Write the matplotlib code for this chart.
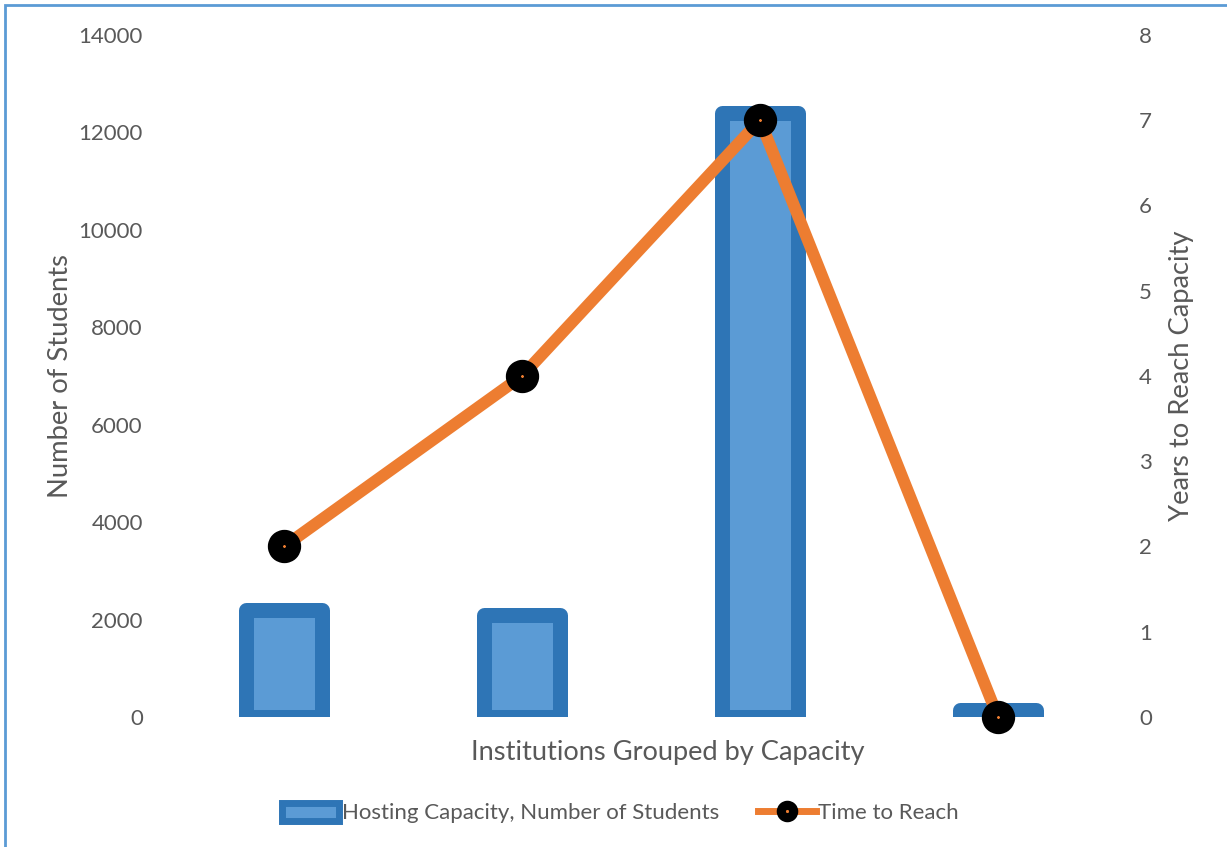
#!/usr/bin/env python
import matplotlib
matplotlib.use("Agg")
import matplotlib.pyplot as plt
from matplotlib.patches import Rectangle
from matplotlib.lines import Line2D
from matplotlib.patches import Patch

# data
categories = ["Group 1", "Group 2", "Group 3", "Group 4"]
students = [2200, 2100, 12400, 150]
years = [2, 4, 7, 0]

left_ticks = [0, 2000, 4000, 6000, 8000, 10000, 12000, 14000]
right_ticks = [0, 1, 2, 3, 4, 5, 6, 7, 8]

TEXT = "#595959"
BAR_FILL = "#5B9BD5"
BAR_EDGE = "#2E75B6"
ORANGE = "#ED7D31"

plt.rcParams["font.family"] = ["Lato", "DejaVu Sans"]


def main():
    fig = plt.figure(figsize=(12.27, 8.47), dpi=100)
    ax = fig.add_axes([0.1345, 0.1535, 0.7758, 0.8052])
    ax2 = ax.twinx()

    x = list(range(len(categories)))
    ax.bar(x, students, width=0.32, color=BAR_FILL, edgecolor=BAR_EDGE,
           linewidth=10.8, joinstyle="round", zorder=2)
    ax.set_xlim(-0.5, 3.5)
    ax.set_ylim(0, 14000)
    ax.set_yticks(left_ticks)
    ax.set_xticks([])

    ax2.plot(x, years, color=ORANGE, lw=8.6, marker="o", markersize=13.2,
             markerfacecolor=ORANGE, markeredgecolor="black",
             markeredgewidth=10.8, solid_capstyle="butt", clip_on=False,
             zorder=3)
    ax2.set_ylim(0, 8)
    ax2.set_yticks(right_ticks)

    for a in (ax, ax2):
        for s in a.spines.values():
            s.set_visible(False)
        a.tick_params(length=0, labelsize=16, labelcolor=TEXT, pad=16)

    fig.text(60 / 1227, 1 - 376 / 847, "Number of Students", rotation=90,
             ha="center", va="center", fontsize=19.7, color=TEXT)
    fig.text(1181 / 1227, 1 - 376 / 847, "Years to Reach Capacity",
             rotation=90, ha="center", va="center", fontsize=19.7, color=TEXT)
    fig.text(668 / 1227, 1 - 752 / 847, "Institutions Grouped by Capacity",
             ha="center", va="center", fontsize=19.6, color=TEXT)

    handles = [
        Patch(facecolor=BAR_FILL, edgecolor=BAR_EDGE, linewidth=5,
              joinstyle="round"),
        Line2D([0], [0], color=ORANGE, lw=5, marker="o", markersize=9,
               markerfacecolor=ORANGE, markeredgecolor="black",
               markeredgewidth=6.5),
    ]
    fig.legend(handles, ["Hosting Capacity, Number of Students", "Time to Reach"],
               loc="center", bbox_to_anchor=(620 / 1227, 1 - 813 / 847),
               ncol=2, frameon=False, fontsize=16, labelcolor=TEXT,
               handlelength=2.6, handleheight=0.9, handletextpad=0.1,
               columnspacing=1.75)

    # light blue frame, cut off on the right and bottom
    fig.patches.append(Rectangle((5 / 1227, -0.1), 1.2, 1.1 - 5 / 847,
                                 transform=fig.transFigure, fill=False,
                                 edgecolor="#5B9BD5", linewidth=2))

    fig.savefig("out.png", dpi=100)


if __name__ == "__main__":
    main()
